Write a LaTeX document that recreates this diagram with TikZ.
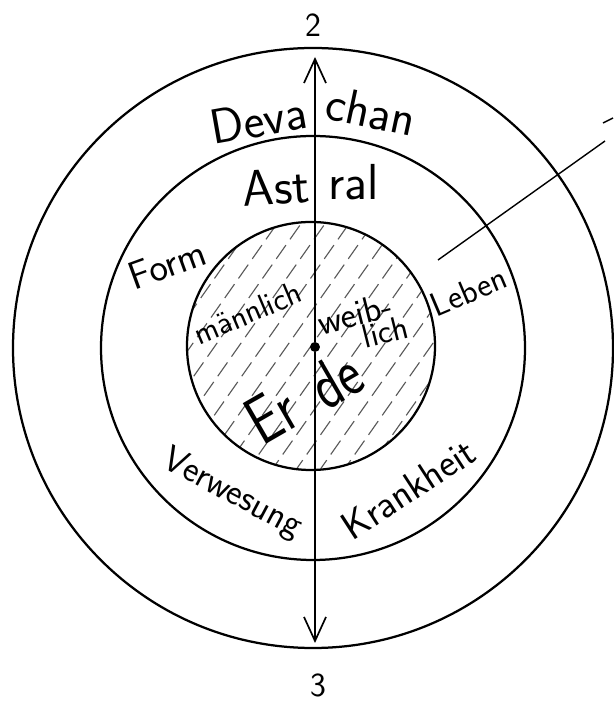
\documentclass[tikz,border=0pt]{standalone}
\usetikzlibrary{arrows.meta}
\tikzset{
  ring/.style={line width=1.6pt},
  hand/.style={font=\sffamily\fontsize{#1}{#1}\selectfont, inner sep=0pt},
  pole/.style={line width=1.2pt, -{Straight Barb[length=6mm,width=5.5mm]}},
  hatch/.style={line width=0.8pt, black!65, dash pattern=on 12pt off 5pt},
}
\begin{document}
\begin{tikzpicture}[x=0.025cm,y=0.025cm]
  \useasboundingbox (0,0) rectangle (613,702);
  \coordinate (m) at (313,354);
  \coordinate (e) at (311,356);
  \draw[ring] (m) circle (300);
  \draw[ring] (m) circle (212);
  % Erde, schraffiert
  \begin{scope}
    \clip (e) circle (123);
    \foreach \d in {-216,-192,...,216}
      \draw[hatch] ([shift={(\d,0)}]e) ++(-90,-128) -- ++(180,256);
  \end{scope}
  \draw[ring] (e) circle (124);
  \node[circle, fill, inner sep=2.5pt] (c) at (315,355) {};
  \coordinate (n) at (315,645);
  \coordinate (s) at (315,59);
  \draw[pole] (c) -- (n);
  \draw[pole] (c) -- (s);
  \node[hand=24] (two) at (313,677) {2};
  \node[hand=24] (three) at (318,17) {3};
  % Strahl rechts oben
  \coordinate (r1) at (438,442);
  \coordinate (r2) at (605,561);
  \draw[line width=1pt] (r1) -- (r2);
  \coordinate (r3) at (603,579);
  \coordinate (r4) at (613,584);
  \draw[line width=1pt] (r3) -- (r4);
  % Beschriftung
  \node[hand=35, anchor=base east, rotate=10] (deva) at (310,574) {Deva};
  \node[hand=35, anchor=base west, rotate=-12] (chan) at (323,584) {chan};
  \node[hand=36, anchor=base east, rotate=4] (ast) at (311,500) {Ast};
  \node[hand=36, anchor=base west] (ral) at (328,502) {ral};
  \node[hand=28, anchor=base, rotate=20] (form) at (172,425) {Form};
  \node[hand=23, anchor=base, rotate=23] (mann) at (252,379) {männlich};
  \node[hand=26, anchor=base, rotate=14] (weib) at (358,376) {weib-};
  \node[hand=24, anchor=base, rotate=14] (lich) at (388,359) {lich};
  \node[hand=24, anchor=base, rotate=23] (leben) at (473,400) {Leben};
  \node[hand=48, anchor=base east, rotate=30, xscale=.8] (er) at (304,279) {Er};
  \node[hand=48, anchor=base west, rotate=30, xscale=.8] (de) at (326,290) {de};
  \node[hand=26, anchor=base, rotate=-28] (verw) at (228,200) {Verwesung};
  \node[hand=28, anchor=base, rotate=33] (krank) at (416,202) {Krankheit};
\end{tikzpicture}
\end{document}
